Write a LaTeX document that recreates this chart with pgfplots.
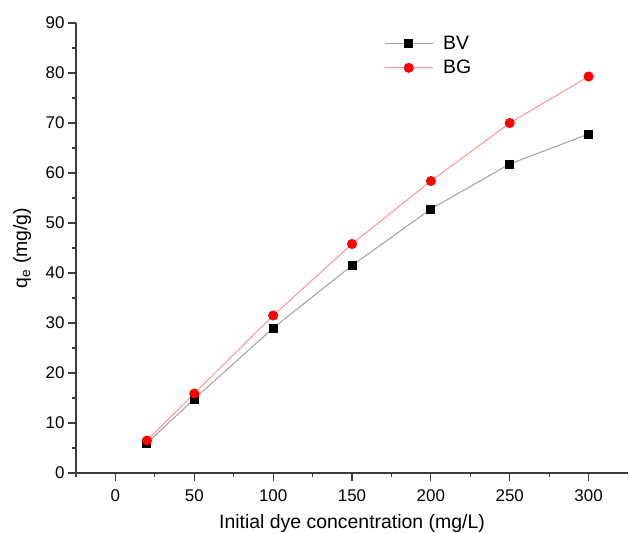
\documentclass[border=0pt]{standalone}
\usepackage{fontspec}
\setmainfont{Liberation Sans}
\usepackage{pgfplots}
\pgfplotsset{compat=1.18}
\definecolor{axisgray}{RGB}{60,60,60}
\definecolor{bvline}{RGB}{160,160,160}
\definecolor{bgline}{RGB}{255,150,150}
\begin{document}
\begin{tikzpicture}
\useasboundingbox (0,0) rectangle (629bp,533bp);
\begin{axis}[
 at={(76bp,60bp)},anchor=south west,
 scale only axis,width=552bp,height=450bp,
 xmin=-25,xmax=325,ymin=0,ymax=90,
 axis lines=left,axis line style={-,axisgray,line width=1.2bp},
 every tick/.style={axisgray,line width=1.1bp},
 tick align=outside,
 major tick length=8bp,minor tick length=4bp,
 xtick={0,50,...,300},minor xtick={-25,25,75,...,275},
 ytick={0,10,...,90},minor ytick={5,15,...,85},
 /pgf/number format/assume math mode=true,
 ticklabel style={font=\fontsize{17}{20}\selectfont},
 xticklabel style={yshift=-5bp},
 xlabel={Initial dye concentration (mg/L)},
 ylabel={q\textsubscript{e} (mg/g)},
 label style={font=\fontsize{19.5}{23}\selectfont},
 xlabel style={at={(axis description cs:0.5,-0.1244)},anchor=base},
 ylabel style={at={(axis description cs:-0.0978,0.5)},anchor=center},
 legend style={draw=none,fill=none,at={(axis description cs:0.558,0.975)},anchor=north west,
  font=\fontsize{19.5}{23}\selectfont,row sep=5bp,inner sep=0pt,
  /tikz/every odd column/.append style={column sep=8bp}},
 legend cell align=left,
 legend image code/.code={\draw[mark repeat=2,mark phase=2,#1] plot coordinates {(0bp,0bp) (24bp,0bp) (48bp,0bp)};},
]
\addplot[bvline,line width=1bp,mark=square*,mark size=4bp,mark options={black,fill=black}] coordinates {
 (20,6.0) (50,14.8) (100,29.0) (150,41.5) (200,52.8) (250,61.8) (300,67.8)};
\addlegendentry{BV}
\addplot[bgline,line width=1bp,mark=*,mark size=4.5bp,mark options={red,fill=red}] coordinates {
 (20,6.5) (50,15.9) (100,31.5) (150,45.8) (200,58.4) (250,70.0) (300,79.3)};
\addlegendentry{BG}
\end{axis}
\end{tikzpicture}
\end{document}
